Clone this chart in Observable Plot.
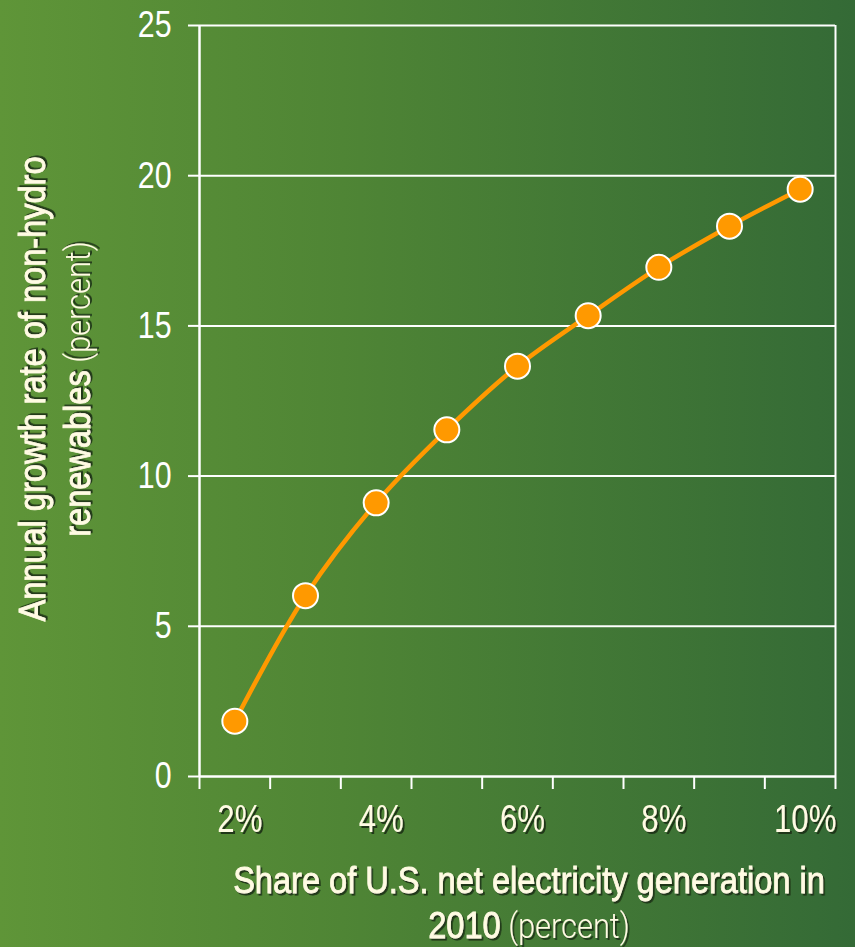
<!DOCTYPE html>
<html>
<head>
<meta charset="utf-8">
<script src="https://cdn.jsdelivr.net/npm/d3@7"></script>
<script src="https://cdn.jsdelivr.net/npm/@observablehq/plot@0.6"></script>
<style>
  html, body { margin: 0; padding: 0; }
  body {
    width: 855px; height: 947px; overflow: hidden;
    background: linear-gradient(to right, #5f9538 0%, #4f8535 40%, #346a36 100%);
    font-family: "Liberation Sans", Arial, sans-serif;
  }
  #chart svg { display: block; }
</style>
</head>
<body>
<div id="chart"></div>
<script>
// Data
const shares = [2, 3, 4, 5, 6, 7, 8, 9, 10];                 // share of US net generation in 2010 (%)
const growth = [1.84, 6.02, 9.11, 11.54, 13.66, 15.34, 16.95, 18.32, 19.55]; // annual growth rate (%)
const yTicks = [0, 5, 10, 15, 20, 25];
const gridValues = [5, 10, 15, 20, 25];
const xLabelValues = [2, 4, 6, 8, 10];
const xBoundaries = [1.5, 2.5, 3.5, 4.5, 5.5, 6.5, 7.5, 8.5, 9.5, 10.5];
const xTitleLine1 = "Share of U.S. net electricity generation in";
const xTitleLine2Main = "2010";
const xTitleLine2Aside = " (percent)";
const yTitleLine1 = "Annual growth rate of non-hydro";
const yTitleLine2Main = "renewables";
const yTitleLine2Aside = " (percent)";

const data = shares.map((s, i) => ({share: s, growth: growth[i]}));

const cream = "#fffbe3";
const shadow = "#1e3314";
const orange = "#ff9900";
const font = '"Liberation Sans", Arial, sans-serif';
const lightFont = 'Roboto, "Liberation Sans", Arial, sans-serif';
const narrow = 0.82;      // emulate a narrow face for tick labels
const titleNarrow = 0.88; // and for the axis titles

const chart = Plot.plot({
  width: 855,
  height: 947,
  marginLeft: 199,
  marginRight: 20,
  marginTop: 25,
  marginBottom: 171,
  style: {background: "transparent", color: "white", fontFamily: font, overflow: "visible"},
  x: {domain: [1.5, 10.5]},
  y: {domain: [0, 25]},
  marks: [
    Plot.ruleY(gridValues, {stroke: "white", strokeWidth: 2}),
    Plot.ruleY([0], {stroke: "white", strokeWidth: 2.5}),
    Plot.ruleX([xBoundaries[0]], {stroke: "white", strokeWidth: 2.5}),
    Plot.ruleX([xBoundaries[xBoundaries.length - 1]], {stroke: "white", strokeWidth: 2}),
    Plot.axisY({ticks: yTicks, tickSize: 11, tickPadding: 17, fontSize: 37, strokeWidth: 2, label: null, tickFormat: d => String(d)}),
    Plot.axisX({ticks: xBoundaries, tickSize: 13, tickFormat: () => "", strokeWidth: 2, label: null}),
    Plot.axisX({ticks: xLabelValues, tickSize: 0, tickPadding: 29, fontSize: 38, tickFormat: d => d + "%", fill: cream, dx: 5, label: null}),
    Plot.line(data, {x: "share", y: "growth", stroke: orange, strokeWidth: 4.5, curve: "catmull-rom"}),
    Plot.dot(data, {x: "share", y: "growth", r: 12.5, fill: orange, stroke: "white", strokeWidth: 2})
  ]
});

document.getElementById("chart").appendChild(chart);

const svg = d3.select(chart);
// drop shadow filter for cream texts
const defs = svg.insert("defs", ":first-child");
const f = defs.append("filter").attr("id", "txtShadow").attr("x", "-10%").attr("y", "-20%").attr("width", "130%").attr("height", "150%");
f.append("feDropShadow").attr("dx", 2).attr("dy", 2).attr("stdDeviation", 0.6).attr("flood-color", shadow).attr("flood-opacity", 0.95);

// compress axis tick labels horizontally
svg.selectAll("g[aria-label='y-axis tick label'] text, g[aria-label='x-axis tick label'] text").each(function () {
  const len = this.getComputedTextLength();
  if (len > 0) {
    this.setAttribute("textLength", len * narrow);
    this.setAttribute("lengthAdjust", "spacingAndGlyphs");
  }
});
svg.selectAll("g[aria-label='x-axis tick label']").attr("filter", "url(#txtShadow)");

// Axis titles (main part medium weight, "(percent)" lighter)
function addTitle(lines, x, y, rotate, lineGap) {
  const g = svg.append("g")
    .attr("transform", `translate(${x},${y}) rotate(${rotate}) scale(${titleNarrow},1)`)
    .attr("font-size", 37)
    .attr("fill", cream)
    .attr("text-anchor", "middle")
    .attr("filter", "url(#txtShadow)");
  lines.forEach((parts, i) => {
    const t = g.append("text").attr("y", i * lineGap);
    parts.forEach(([txt, light]) => {
      const s = t.append("tspan")
        .attr("font-family", light ? lightFont : font)
        .attr("font-weight", light ? 300 : 400)
        .attr("font-size", light ? 35 : 37)
        .text(txt);
      if (!light) s.attr("stroke", cream).attr("stroke-width", 0.8);
    });
  });
}
addTitle([[[xTitleLine1, false]], [[xTitleLine2Main, false], [xTitleLine2Aside, true]]], 529, 893, 0, 45);
addTitle([[[yTitleLine1, false]], [[yTitleLine2Main, false], [yTitleLine2Aside, true]]], 45, 389, -90, 45);
</script>
</body>
</html>
